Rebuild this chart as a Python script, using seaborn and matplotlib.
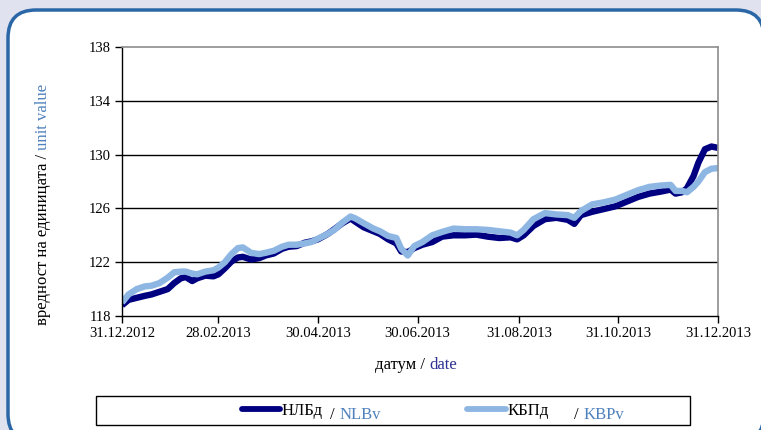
import matplotlib
matplotlib.use('Agg')
import matplotlib.pyplot as plt
from matplotlib.patches import FancyBboxPatch, Rectangle
from matplotlib.transforms import IdentityTransform
import pandas as pd
import seaborn as sns

# values
dates = ['2012-12-31', '2013-01-04', '2013-01-09', '2013-01-14', '2013-01-18', '2013-01-23',
         '2013-01-28', '2013-02-01', '2013-02-05', '2013-02-08', '2013-02-12', '2013-02-15',
         '2013-02-20', '2013-02-25', '2013-02-28', '2013-03-04', '2013-03-08', '2013-03-12',
         '2013-03-15', '2013-03-20', '2013-03-25', '2013-03-29', '2013-04-03', '2013-04-08',
         '2013-04-12', '2013-04-17', '2013-04-22', '2013-04-26', '2013-04-30', '2013-05-06',
         '2013-05-10', '2013-05-15', '2013-05-20', '2013-05-23', '2013-05-28', '2013-06-03',
         '2013-06-07', '2013-06-12', '2013-06-17', '2013-06-20', '2013-06-24', '2013-06-28',
         '2013-07-03', '2013-07-09', '2013-07-15', '2013-07-22', '2013-07-29', '2013-08-05',
         '2013-08-12', '2013-08-19', '2013-08-26', '2013-08-30', '2013-09-03', '2013-09-09',
         '2013-09-16', '2013-09-23', '2013-09-30', '2013-10-04', '2013-10-08', '2013-10-15',
         '2013-10-22', '2013-10-29', '2013-11-05', '2013-11-12', '2013-11-19', '2013-11-26',
         '2013-12-02', '2013-12-05', '2013-12-09', '2013-12-12', '2013-12-16', '2013-12-19',
         '2013-12-23', '2013-12-27', '2013-12-31']

nlb = [118.8, 119.2, 119.35, 119.5, 119.6, 119.8,
       120.0, 120.45, 120.8, 120.9, 120.6, 120.8,
       121.0, 120.95, 121.1, 121.55, 122.05, 122.35,
       122.4, 122.2, 122.3, 122.5, 122.65, 123.0,
       123.15, 123.2, 123.45, 123.55, 123.7, 124.1,
       124.45, 124.9, 125.25, 125.0, 124.6, 124.3,
       124.1, 123.7, 123.4, 122.8, 122.75, 123.05,
       123.3, 123.5, 123.9, 124.0, 124.0, 124.05,
       123.9, 123.8, 123.85, 123.7, 124.0, 124.7,
       125.2, 125.3, 125.15, 124.85, 125.5, 125.75,
       125.95, 126.15, 126.5, 126.85, 127.1, 127.25,
       127.4, 127.1, 127.2, 127.5, 128.4, 129.4,
       130.4, 130.6, 130.5]

kbp = [119.0, 119.6, 120.0, 120.2, 120.25, 120.45,
       120.85, 121.25, 121.3, 121.3, 121.15, 121.1,
       121.3, 121.4, 121.6, 122.0, 122.6, 123.05,
       123.1, 122.7, 122.6, 122.7, 122.85, 123.15,
       123.3, 123.3, 123.4, 123.5, 123.75, 124.1,
       124.4, 124.95, 125.4, 125.25, 124.9, 124.5,
       124.3, 123.95, 123.8, 123.0, 122.5, 123.2,
       123.5, 124.0, 124.25, 124.5, 124.45, 124.45,
       124.4, 124.3, 124.2, 124.0, 124.4, 125.2,
       125.65, 125.55, 125.5, 125.3, 125.8, 126.3,
       126.45, 126.65, 127.0, 127.35, 127.6, 127.7,
       127.75, 127.3, 127.3, 127.2, 127.6, 128.0,
       128.7, 128.95, 129.0]

series_names = ['НЛБд', 'КБПд']
series_latin = ['NLBv', 'KBPv']
tick_dates = ['2012-12-31', '2013-02-28', '2013-04-30', '2013-06-30',
              '2013-08-31', '2013-10-31', '2013-12-31']
tick_labels = ['31.12.2012', '28.02.2013', '30.04.2013', '30.06.2013',
               '31.08.2013', '31.10.2013', '31.12.2013']
y_ticks = [118, 122, 126, 130, 134, 138]

W, H = 761, 430
bg_color = '#E0E3EF'
border_color = '#2B67A6'
navy = '#000080'
light = '#8DB6E3'
latin_blue = '#4F81BD'
date_blue = '#2E3192'
label_size = 12

sns.set_theme(style='white')
plt.rcParams['font.family'] = ['Liberation Serif', 'DejaVu Serif']
plt.rcParams['text.color'] = 'black'
plt.rcParams['xtick.color'] = 'black'
plt.rcParams['ytick.color'] = 'black'

df = pd.DataFrame({
    'date': pd.to_datetime(dates * 2),
    'value': nlb + kbp,
    'series': [series_names[0]] * len(dates) + [series_names[1]] * len(dates),
})

fig = plt.figure(figsize=(W / 100, H / 100), dpi=100, facecolor=bg_color)

# white rounded panel with blue border
panel = FancyBboxPatch((8, -12), 756, 432, boxstyle='round,pad=0,rounding_size=28',
                       transform=IdentityTransform(), facecolor='white',
                       edgecolor=border_color, linewidth=2.5, zorder=-5)
fig.add_artist(panel)

ax = fig.add_axes([122 / W, 1 - 316 / H, (718 - 122) / W, (316 - 47) / H])
ax.set_facecolor('white')

sns.lineplot(data=df, x='date', y='value', hue='series', hue_order=series_names,
             palette=[navy, light], linewidth=4.6, legend=False, ax=ax)
for ln in ax.lines:
    ln.set_solid_capstyle('butt')

ax.set_xlim(pd.Timestamp('2012-12-31'), pd.Timestamp('2013-12-31'))
ax.set_ylim(118, 138)
ax.set_xticks(pd.to_datetime(tick_dates))
ax.set_xticklabels(tick_labels, fontsize=10.5)
ax.set_yticks(y_ticks)
ax.set_yticklabels([str(v) for v in y_ticks], fontsize=10.5)
ax.tick_params(axis='both', direction='out', length=5, width=1, color='black', pad=3,
               bottom=True, left=True)
ax.set_xlabel('')
ax.set_ylabel('')
ax.grid(False)
for v in y_ticks[1:-1]:
    ax.axhline(v, color='black', linewidth=1, zorder=0.5)
for side in ['left', 'bottom']:
    ax.spines[side].set_color('black')
    ax.spines[side].set_linewidth(1)
for side in ['top', 'right']:
    ax.spines[side].set_color('#8C8C8C')
    ax.spines[side].set_linewidth(1.2)

# legend box
fig.add_artist(Rectangle((96 / W, 1 - 425 / H), (690 - 96) / W, 29 / H,
                         transform=fig.transFigure, facecolor='white',
                         edgecolor='black', linewidth=1, zorder=1))
leg = fig.legend(handles=ax.lines[:2], labels=series_names, ncol=2, frameon=False,
                 loc='center', bbox_to_anchor=(395 / W, 1 - 411 / H), fontsize=label_size,
                 handlelength=2.3, handletextpad=0.08, columnspacing=8.7,
                 borderpad=0, borderaxespad=0)
leg.set_zorder(2)
for h in leg.legend_handles:
    h.set_linewidth(4.2)
    h.set_solid_capstyle('round')

# two-coloured axis labels
yl1 = fig.text(43 / W, 105 / H, 'вредност на единицата / ', rotation=90,
               ha='center', va='bottom', fontsize=label_size)
xl1 = fig.text(375 / W, 1 - 365 / H, 'датум / ', ha='left', va='center', fontsize=label_size)

fig.canvas.draw()
r = fig.canvas.get_renderer()

bb = yl1.get_window_extent(r)
fig.text(43 / W, bb.y1 / H, 'unit value', rotation=90, ha='center', va='bottom',
         fontsize=label_size, color=latin_blue)
bb = xl1.get_window_extent(r)
fig.text(bb.x1 / W, 1 - 365 / H, 'date', ha='left', va='center', fontsize=label_size,
         color=date_blue)

gaps = [8, 26]
for txt, latin, gap in zip(leg.get_texts(), series_latin, gaps):
    bb = txt.get_window_extent(r)
    ypos = (bb.y0 + bb.y1) / 2 - 4
    s1 = fig.text((bb.x1 + gap) / W, ypos / H, '/ ', ha='left', va='center',
                  fontsize=label_size, zorder=3)
    b1 = s1.get_window_extent(r)
    fig.text(b1.x1 / W, ypos / H, latin, ha='left', va='center', fontsize=label_size,
             color=latin_blue, zorder=3)

fig.savefig('out.png', dpi=100, facecolor=bg_color)
